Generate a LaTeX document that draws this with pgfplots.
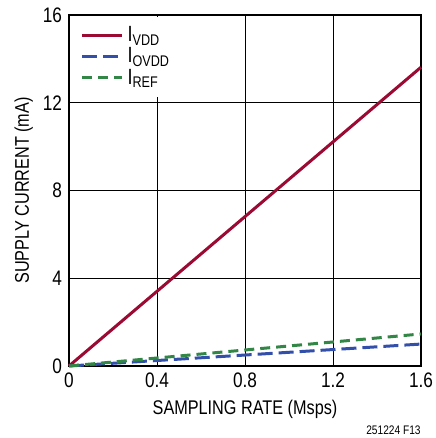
\documentclass[border=0pt]{standalone}
\usepackage{pgfplots}
\pgfplotsset{compat=1.18}
\usepackage{fontspec}
\setmainfont{Liberation Sans}[FakeStretch=0.82]
\definecolor{cvdd}{RGB}{155,10,50}
\definecolor{covdd}{RGB}{50,80,170}
\definecolor{cref}{RGB}{50,135,70}
\begin{document}
\begin{tikzpicture}
\begin{axis}[
  scale only axis, width=176pt, height=175.5pt,
  xmin=0, xmax=1.6, ymin=0, ymax=16,
  xtick={0,0.4,0.8,1.2,1.6}, ytick={0,4,8,12,16},
  xticklabels={0,0.4,0.8,1.2,1.6},
  grid=major, major grid style={black, line width=0.5pt},
  axis line style={black, line width=1.2pt},
  major tick length=0pt,
  /pgf/number format/assume math mode=true,
  tick label style={font=\fontsize{10.5}{12}\selectfont},
  label style={font=\fontsize{9.9}{11}\selectfont},
  xlabel={SAMPLING RATE (Msps)},
  ylabel={SUPPLY CURRENT (mA)},
  xlabel style={yshift=1pt},
  ylabel style={yshift=-2pt},
  legend style={at={(rel axis cs:0,1)}, anchor=north west, draw=none, fill=white,
    font=\fontsize{11}{12.5}\selectfont, inner xsep=5pt, inner ysep=3pt,
    row sep=-2.5pt, xshift=0.6pt, yshift=-0.6pt},
  legend cell align=left,
  legend image code/.code={\draw[#1] (0cm,0cm) -- (20pt,0cm);},
  clip=false,
]
\addplot[cvdd, line width=1.5pt] coordinates {(0,0) (1.6,13.62)};
\addlegendentry{I\textsubscript{VDD}}
\addplot[covdd, line width=1.5pt, dash pattern=on 7.5pt off 3pt] coordinates {(0,0) (1.6,1.0)};
\addlegendentry{I\textsubscript{OVDD}}
\addplot[cref, line width=1.5pt, dash pattern=on 5pt off 3pt] coordinates {(0,0) (1.6,1.46)};
\addlegendentry{I\textsubscript{REF}}
\node[anchor=east, inner sep=0pt, font=\fontsize{6.2}{8}\selectfont] at (rel axis cs:1,0) [yshift=-32pt] {251224 F13};
\end{axis}
\pgfresetboundingbox
\path[use as bounding box] (-34.5pt,-36pt) rectangle (183pt,183pt);
\end{tikzpicture}
\end{document}
